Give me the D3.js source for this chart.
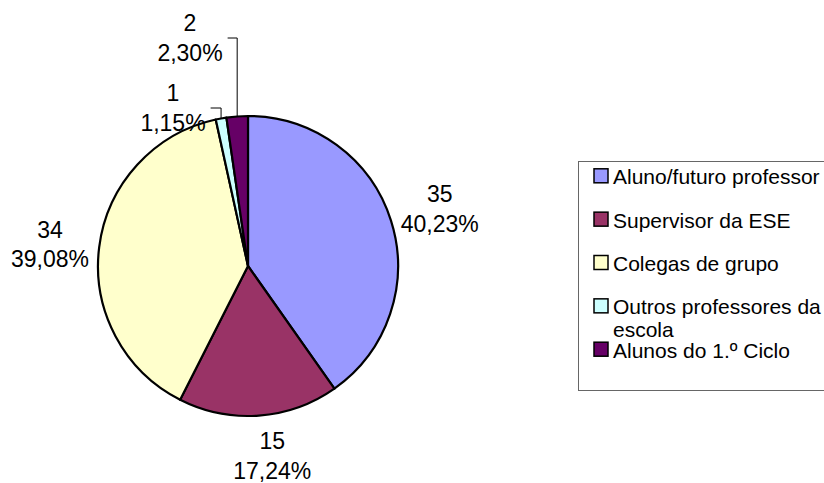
<!DOCTYPE html>
<html>
<head>
<meta charset="utf-8">
<script src="https://cdn.jsdelivr.net/npm/d3@7"></script>
<style>
  html, body { margin: 0; padding: 0; background: #ffffff; }
  svg { display: block; }
  text { font-family: "Liberation Sans", Arial, sans-serif; fill: #000; }
</style>
</head>
<body>
<svg id="chart" width="824" height="483"></svg>
<script>
// Categories, counts and slice colours
const categories = [
  "Aluno/futuro professor",
  "Supervisor da ESE",
  "Colegas de grupo",
  "Outros professores da escola",
  "Alunos do 1.º Ciclo"
];
const counts = [35, 15, 34, 1, 2];
const colors = ["#9999FF", "#993366", "#FFFFCC", "#CCFFFF", "#660066"];

// Layout
const W = 824, H = 483;
const cx = 248, cy = 266, R = 150;
const labelFont = 23, labelLine = 29.5;
const labelRadius = R + 48;
// Small-slice labels are pulled out and joined to their slice by a leader line
const callouts = {
  3: { x: 173, mid: 108 },
  4: { x: 190, mid: 38 }
};
// Fine adjustment of the radial label positions
const nudges = { 0: [3, 2.6], 1: [10, -7.7], 2: [-1.6, 3.7] };

const svg = d3.select("#chart");
const total = d3.sum(counts);
const fmtPct = v => d3.format(".2f")(v).replace(".", ",") + "%";

const data = categories.map((c, i) => ({ name: c, value: counts[i], color: colors[i], i }));

const pie = d3.pie().value(d => d.value).sort(null);
const arcs = pie(data);
const arc = d3.arc().innerRadius(0).outerRadius(R);

const g = svg.append("g").attr("transform", `translate(${cx},${cy})`);

g.selectAll("path.slice")
  .data(arcs)
  .join("path")
  .attr("class", "slice")
  .attr("d", arc)
  .attr("fill", d => d.data.color)
  .attr("stroke", "#000")
  .attr("stroke-width", 2.2)
  .attr("stroke-linejoin", "round");

// Data labels: count on the first line, share on the second
arcs.forEach(a => {
  const i = a.data.i;
  const mid = (a.startAngle + a.endAngle) / 2;
  const lines = [String(a.data.value), fmtPct(a.data.value / total * 100)];
  let lx, b1;
  if (callouts[i]) {
    const c = callouts[i];
    lx = c.x;
    b1 = c.mid - 7;
  } else {
    const px = cx + labelRadius * Math.sin(mid);
    const py = cy - labelRadius * Math.cos(mid);
    const n = nudges[i] || [0, 0];
    lx = px + n[0];
    b1 = py - 6.75 + n[1];
  }
  const t = svg.append("text")
    .attr("text-anchor", "middle")
    .attr("font-size", labelFont);
  lines.forEach((s, k) => {
    t.append("tspan").attr("x", lx).attr("y", b1 + k * labelLine).text(s);
  });

  if (callouts[i]) {
    const c = callouts[i];
    const bb = t.node().getBBox();
    const ex = cx + R * Math.sin(mid);
    const ey = cy - R * Math.cos(mid);
    const sx = bb.x + bb.width + 5;
    svg.append("path")
      .attr("d", `M${sx},${c.mid}H${ex}L${ex},${ey}`)
      .attr("fill", "none")
      .attr("stroke", "#000")
      .attr("stroke-width", 1);
  }
});

// Legend
const legX = 578, legY = 161, legW = 270, legH = 229;
const leg = svg.append("g");
leg.append("rect")
  .attr("x", legX + 0.5).attr("y", legY + 0.5)
  .attr("width", legW).attr("height", legH)
  .attr("fill", "#fff").attr("stroke", "#666").attr("stroke-width", 1);

const legFont = 21, rowStep = 43.35, firstBase = 184.3, wrapLine = 23, maxTextW = 215;
const textX = 613, swX = 594, swSize = 14;

data.forEach((d, k) => {
  const base = firstBase + k * rowStep;
  leg.append("rect")
    .attr("x", swX).attr("y", base - 15.5)
    .attr("width", swSize).attr("height", swSize)
    .attr("fill", d.color).attr("stroke", "#000").attr("stroke-width", 1.5);
  const t = leg.append("text").attr("font-size", legFont);
  // simple word wrap to the legend's text width
  const words = d.name.split(" ");
  let line = [], lineNo = 0;
  let ts = t.append("tspan").attr("x", textX).attr("y", base);
  words.forEach(w => {
    line.push(w);
    ts.text(line.join(" "));
    if (ts.node().getComputedTextLength() > maxTextW && line.length > 1) {
      line.pop();
      ts.text(line.join(" "));
      line = [w];
      lineNo++;
      ts = t.append("tspan").attr("x", textX).attr("y", base + lineNo * wrapLine).text(w);
    }
  });
});
</script>
</body>
</html>
